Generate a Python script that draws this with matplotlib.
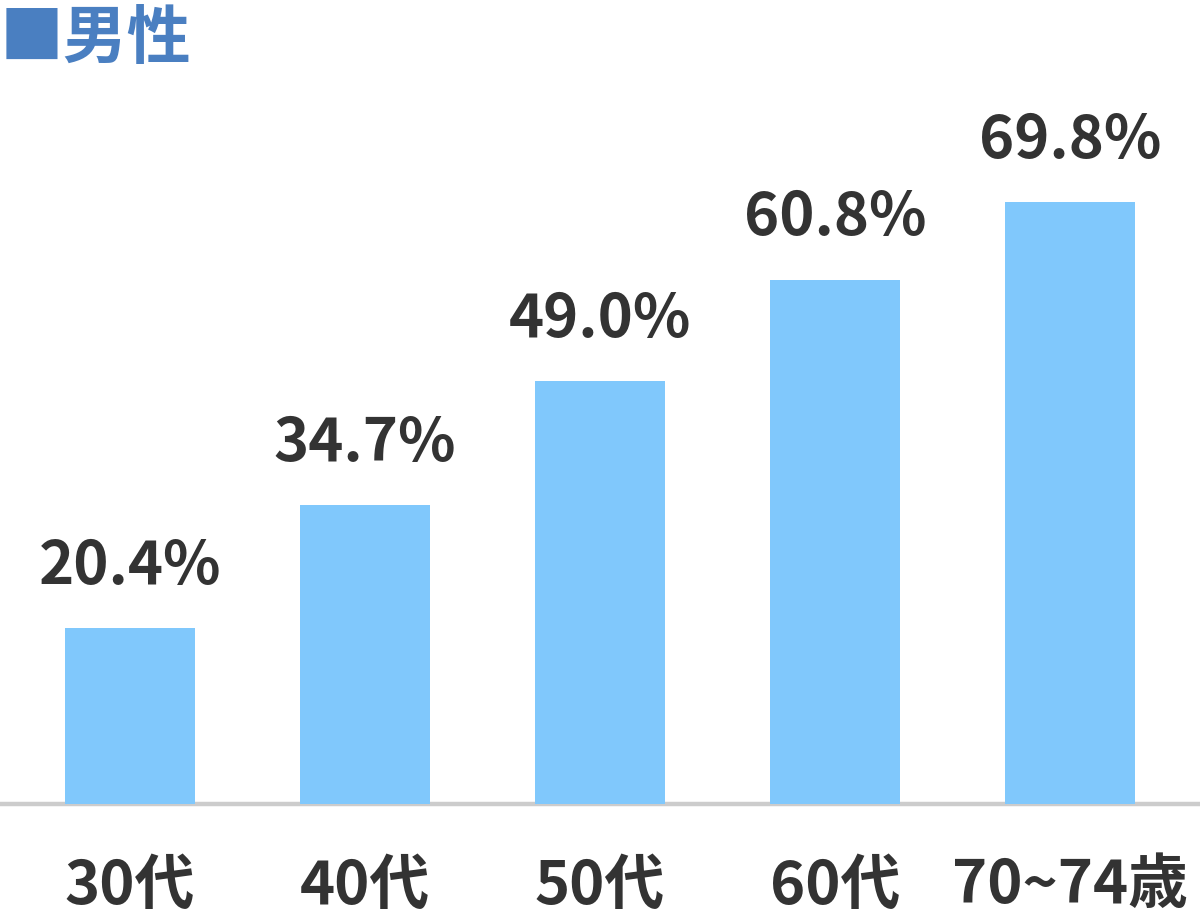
import matplotlib
matplotlib.use("Agg")
import matplotlib.pyplot as plt

categories = ["30代", "40代", "50代", "60代", "70~74歳"]
values = [20.4, 34.7, 49.0, 60.8, 69.8]
value_labels = ["20.4%", "34.7%", "49.0%", "60.8%", "69.8%"]
title = "■男性"

plt.rcParams['font.family'] = ['Noto Sans CJK JP', 'DejaVu Sans']

fig = plt.figure(figsize=(12, 9.2), dpi=100)
ax = fig.add_axes([0, 0.1245, 1, 0.8755])
x = list(range(len(categories)))
ax.bar(x, values, width=0.553, color="#80c8fc", zorder=2)
ax.set_xlim(-0.553, 4.553)
ax.set_ylim(0, 93.3)
ax.axhline(0, color="#cccccc", lw=3.2, zorder=1, clip_on=False)
for s in ax.spines.values():
    s.set_visible(False)
ax.set_xticks([])
ax.set_yticks([])

for i, (v, lab) in enumerate(zip(values, value_labels)):
    ax.annotate(lab, xy=(i, v), xytext=(0, 32.5), textcoords="offset points",
                ha="center", va="baseline", fontsize=43, fontweight="bold",
                color="#333333")
for i, c in enumerate(categories):
    ax.annotate(c, xy=(i, 0), xytext=(0, -70.5), textcoords="offset points",
                ha="center", va="baseline", fontsize=43, fontweight="bold",
                color="#333333", annotation_clip=False)

fig.text(0.0, 1 - 58/920, title, ha="left", va="baseline", fontsize=46,
         fontweight="bold", color="#4a7fc1")

fig.savefig("out.png", dpi=100)
